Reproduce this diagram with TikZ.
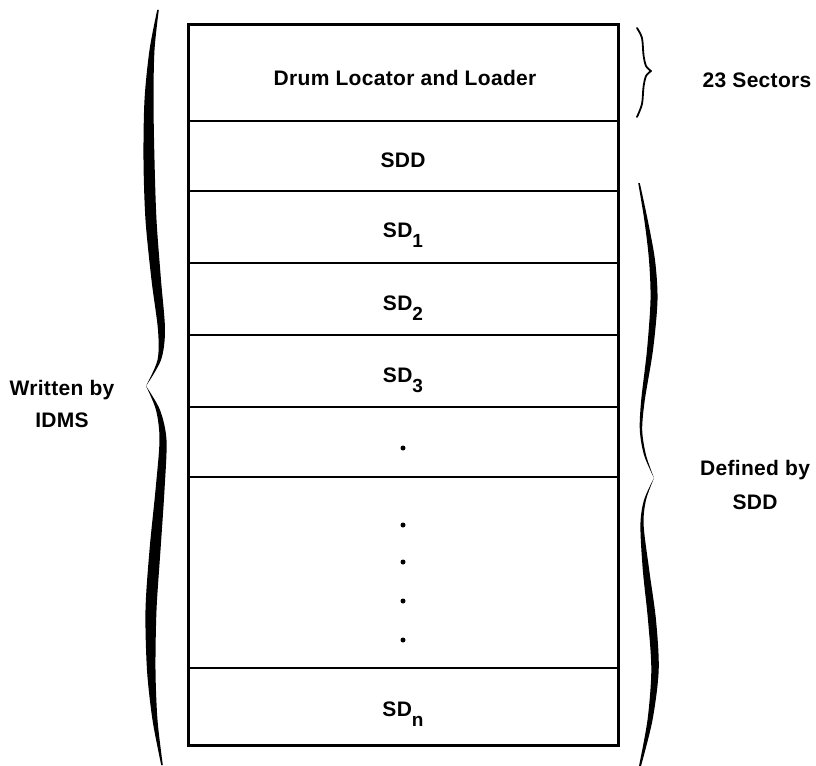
\documentclass[tikz,border=0pt]{standalone}
\usepackage{fontspec}
\setmainfont{Liberation Sans}[LetterSpace=1.5]
\newcommand{\sz}{\fontsize{21bp}{24bp}\selectfont\bfseries}
\newcommand{\subs}[1]{\raisebox{-10bp}{\fontsize{19bp}{20bp}\selectfont\bfseries #1}}
\begin{document}
\begin{tikzpicture}[x=1bp,y=-1bp,
  lbl/.style={font=\sz, anchor=base, inner sep=0pt},
  boxline/.style={line width=2.6bp},
  dotmark/.style={circle, fill=black, inner sep=0pt, minimum size=5bp}]
\useasboundingbox (0,0) rectangle (816,766);
% outer box
\node[draw, boxline, minimum width=430bp, minimum height=721bp, inner sep=0pt, anchor=north west] (box) at (187,23) {};
% row separators
\coordinate (l1) at (187,121); \coordinate (r1) at (617,121);
\coordinate (l2) at (187,191); \coordinate (r2) at (617,191);
\coordinate (l3) at (187,263); \coordinate (r3) at (617,263);
\coordinate (l4) at (187,335); \coordinate (r4) at (617,335);
\coordinate (l5) at (187,407); \coordinate (r5) at (617,407);
\coordinate (l6) at (187,477); \coordinate (r6) at (617,477);
\coordinate (l7) at (187,668); \coordinate (r7) at (617,668);
\foreach \i in {1,...,7} {\draw[boxline] (l\i) -- (r\i);}
% row labels
\node[lbl] (drum) at (405,85) {Drum Locator and Loader};
\node[lbl] (sdd) at (403,167) {SDD};
\node[lbl] (sd1) at (403,237) {SD\subs{1}};
\node[lbl] (sd2) at (403,310) {SD\subs{2}};
\node[lbl] (sd3) at (403,382) {SD\subs{3}};
\node[lbl] (sdn) at (403,716) {SD\subs{n}};
% dots
\node[dotmark] (d0) at (403,448) {};
\node[dotmark] (d1) at (403,525) {};
\node[dotmark] (d2) at (403,562) {};
\node[dotmark] (d3) at (403,601) {};
\node[dotmark] (d4) at (403,640) {};
% side labels
\node[lbl] (sect) at (757,87) {23 Sectors};
\node[lbl] (wr1) at (62,395) {Written by};
\node[lbl] (wr2) at (62,427) {IDMS};
\node[lbl] (df1) at (755,475) {Defined by};
\node[lbl] (df2) at (755,509) {SDD};
% left big brace
\fill plot[smooth] coordinates {(157.2,10) (149.5,50) (144.5,100) (143.5,160) (145.5,220) (151.5,280) (158,330) (157.5,360) (146,386)}
  -- plot[smooth] coordinates {(146,386) (161,360) (165,330) (161,280) (156.5,220) (154.5,160) (153.5,100) (154.5,50) (158.8,10)} -- cycle;
\fill plot[smooth] coordinates {(146,386) (156,410) (159.5,440) (155.5,490) (149.5,550) (145.5,610) (147,670) (152.5,720) (161.2,765)}
  -- plot[smooth] coordinates {(162.8,765) (157.5,720) (155.5,670) (156.5,610) (160.5,550) (164.5,490) (166.5,440) (160,410) (146,386)} -- cycle;
% right lower brace
\fill plot[smooth] coordinates {(638.2,183) (644.3,220) (649,260) (650.5,300) (647,350) (641.2,400) (639.8,430) (644,455) (654,478)}
  -- plot[smooth] coordinates {(654,478) (646,455) (642.2,430) (644.8,400) (653,350) (657.5,300) (655,260) (647.7,220) (639.8,183)} -- cycle;
\fill plot[smooth] coordinates {(654,478) (644,500) (640.4,525) (642.8,570) (648,620) (651.3,670) (647.5,720) (639,766)}
  -- plot[smooth] coordinates {(641,766) (652.5,720) (658.7,670) (656,620) (649.2,570) (643.6,525) (646,500) (654,478)} -- cycle;
% right upper brace
\draw[line width=1.8bp, line cap=round] plot[smooth] coordinates {(637,28) (642,38) (643.5,55) (646,66) (651,71)};
\draw[line width=1.8bp, line cap=round] plot[smooth] coordinates {(651,71) (646,76) (643.5,87) (642,104) (637,117)};
\end{tikzpicture}
\end{document}
